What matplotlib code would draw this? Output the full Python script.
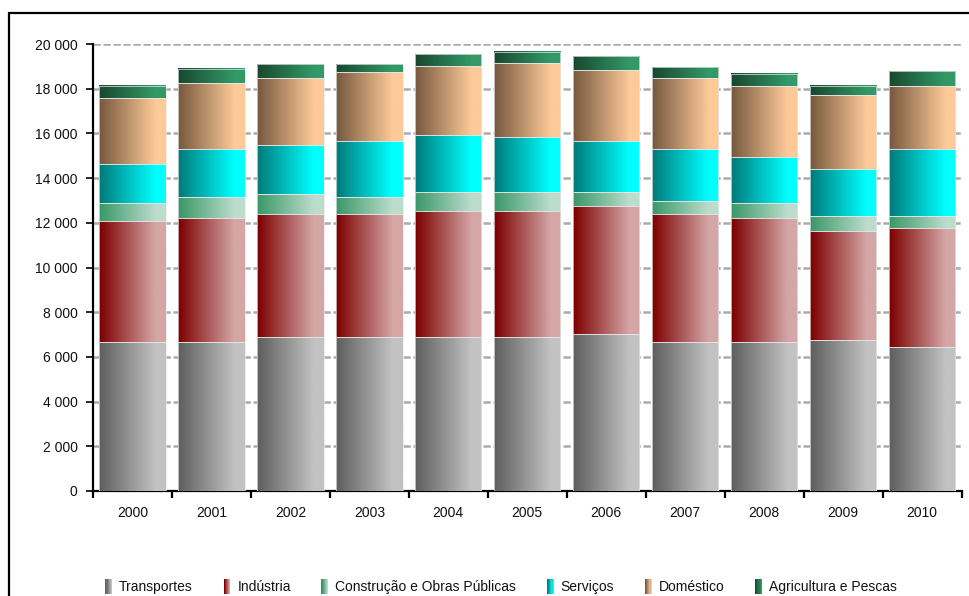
import numpy as np
import matplotlib
matplotlib.use("Agg")
import matplotlib.pyplot as plt
from matplotlib.colors import to_rgb
from matplotlib.patches import Rectangle
from matplotlib.legend_handler import HandlerBase
from matplotlib.ticker import FuncFormatter, MultipleLocator

plt.rcParams['font.family'] = ['Liberation Sans', 'DejaVu Sans']

years = ['2000', '2001', '2002', '2003', '2004', '2005',
         '2006', '2007', '2008', '2009', '2010']

transportes = [6670, 6670, 6890, 6890, 6890, 6890, 7030, 6670, 6670, 6770, 6430]
industria   = [5420, 5560, 5520, 5520, 5620, 5620, 5720, 5740, 5560, 4860, 5330]
construcao  = [780, 940, 880, 760, 880, 880, 640, 570, 650, 660, 540]
servicos    = [1770, 2130, 2180, 2490, 2550, 2430, 2270, 2330, 2070, 2120, 3010]
domestico   = [2950, 2940, 3030, 3090, 3090, 3310, 3190, 3190, 3190, 3310, 2830]
agricultura = [540, 650, 600, 340, 520, 520, 600, 460, 540, 420, 640]

series = [
    ('Transportes', transportes, '#5e5e5e', '#c2c2c2'),
    ('Indústria', industria, '#7d0000', '#d4a6a6'),
    ('Construção e Obras Públicas', construcao, '#3a9868', '#bcdccc'),
    ('Serviços', servicos, '#007a7a', '#00ffff'),
    ('Doméstico', domestico, '#77583f', '#fdca98'),
    ('Agricultura e Pescas', agricultura, '#184830', '#339966'),
]


def gradient(c0, c1, n=64, ramp=0.85):
    t = np.clip(np.linspace(0, 1, n) / ramp, 0, 1)
    a, b = np.array(to_rgb(c0)), np.array(to_rgb(c1))
    return (a[None, :] * (1 - t[:, None]) + b[None, :] * t[:, None])[None, :, :]


W, H = 969, 596
fig = plt.figure(figsize=(W / 100, H / 100), dpi=100)
ax = fig.add_axes([93 / W, 1 - 491 / H, (961.5 - 93) / W, (491 - 44) / H])

x = np.arange(len(years))
bottom = np.zeros(len(years))
for name, vals, c0, c1 in series:
    vals = np.array(vals, dtype=float)
    bars = ax.bar(x, vals, width=0.84, bottom=bottom, facecolor='none',
                  edgecolor='none', zorder=3)
    img = gradient(c0, c1)
    for p in bars.patches:
        x0, y0 = p.get_x(), p.get_y()
        ax.imshow(img, extent=(x0, x0 + p.get_width(), y0, y0 + p.get_height()),
                  aspect='auto', interpolation='bilinear', zorder=3)
        ax.add_patch(Rectangle((x0, y0), p.get_width(), p.get_height(),
                               facecolor='none', edgecolor='#e8e8e8',
                               lw=0.5, zorder=4))
    bottom += vals

ax.set_xlim(-0.5, len(years) - 0.5)
ax.set_ylim(0, 20000)

# dashed horizontal grid
for yv in range(2000, 20001, 2000):
    ax.axhline(yv, color='#ababab', lw=1.8, ls=(0, (2.9, 1.1)), zorder=1)

for side in ('top', 'right'):
    ax.spines[side].set_visible(False)
for side in ('left', 'bottom'):
    ax.spines[side].set_linewidth(1.6)
    ax.spines[side].set_color('black')

ax.yaxis.set_major_locator(MultipleLocator(2000))
ax.yaxis.set_major_formatter(FuncFormatter(lambda v, _: f"{int(v):,}".replace(',', ' ')))
ax.tick_params(axis='y', direction='out', length=5, width=1.2, pad=6,
               labelsize=10, labelcolor='#111111')

ax.set_xticks(np.arange(-0.5, len(years), 1.0))
ax.set_xticklabels([])
ax.tick_params(axis='x', which='major', direction='out', length=5, width=1.6)
ax.set_xticks(x, minor=True)
ax.set_xticklabels(years, minor=True)
ax.tick_params(axis='x', which='minor', length=0, pad=11, labelsize=10,
               labelcolor='#111111')


class GradHandler(HandlerBase):
    def __init__(self, c0, c1):
        super().__init__()
        self.c0, self.c1 = c0, c1

    def create_artists(self, legend, orig_handle, xdescent, ydescent,
                       width, height, fontsize, trans):
        n = 6
        arts = []
        for i in range(n):
            t = i / (n - 1)
            a, b = np.array(to_rgb(self.c0)), np.array(to_rgb(self.c1))
            col = a * (1 - t) + b * t
            r = Rectangle((-xdescent + width * i / n, -ydescent - 2),
                          width / n, height + 4, facecolor=col,
                          edgecolor='none', transform=trans)
            arts.append(r)
        return arts


handles, labels, hmap = [], [], {}
for name, vals, c0, c1 in series:
    h = Rectangle((0, 0), 1, 1)
    handles.append(h)
    labels.append(name)
    hmap[h] = GradHandler(c0, c1)

fig.legend(handles, labels, handler_map=hmap, loc='center',
           bbox_to_anchor=(501 / W, 1 - 587 / H), ncol=6, frameon=False,
           handlelength=0.5, handleheight=0.7, handletextpad=0.5,
           columnspacing=2.2, fontsize=10, labelcolor='#111111')

fig.add_artist(Rectangle((8.5 / W, -0.1), 1.2, 1.1 - 12.5 / H,
                         transform=fig.transFigure, facecolor='none',
                         edgecolor='black', lw=1.6))

fig.savefig('out.png', dpi=100)
